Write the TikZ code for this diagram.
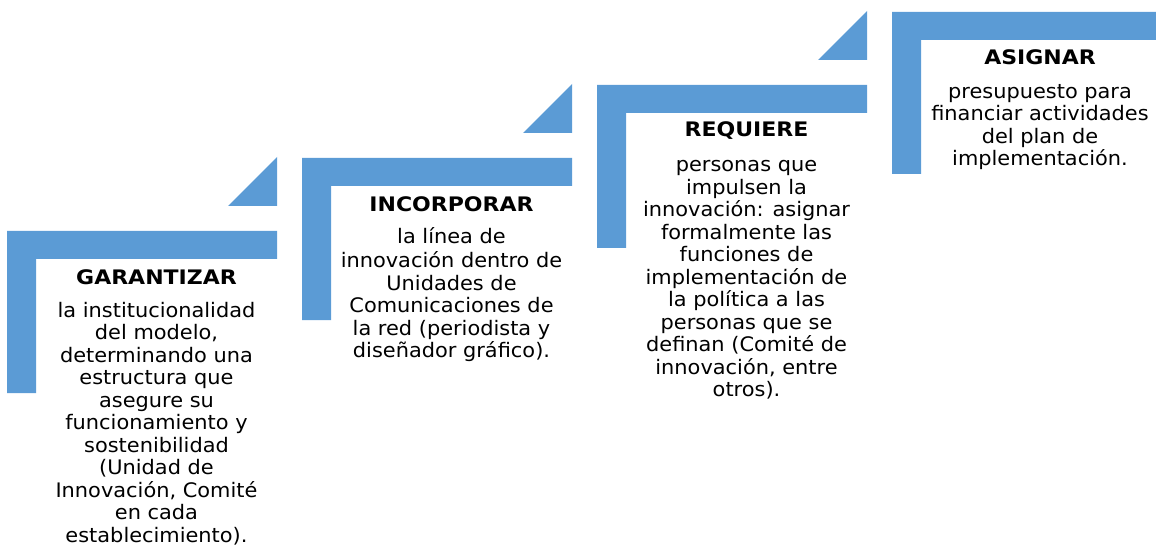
\documentclass[tikz,border=0pt]{standalone}
\usepackage{fontspec}
\setmainfont{DejaVu Sans}
\newfontface\bodyfont[FakeStretch=1.045]{DejaVu Sans}
\newfontface\titlefont[FakeStretch=1.10]{DejaVu Sans Bold}
\definecolor{stepblue}{HTML}{5B9BD5}
\tikzset{
  stepshape/.style={fill=stepblue, draw=none},
  titletext/.style={anchor=base, inner sep=0pt, font=\fontsize{20}{22.5}\selectfont\titlefont},
  bodytext/.style={anchor=north, inner sep=0pt, align=center, font=\fontsize{20}{22.5}\selectfont\bodyfont},
}
\begin{document}
\begin{tikzpicture}[x=1pt,y=-1pt]
\useasboundingbox (0,0) rectangle (1156,553);
% step shapes: x0, top, right, bottom
\foreach \xa/\ta/\ra/\ba in {7/231/277/393, 302/158/572/320, 597/85/867/248, 892/12/1162/174}{
  \fill[stepshape] (\xa,\ta) -- (\ra,\ta) -- (\ra,\ta+28) -- (\xa+29,\ta+28) -- (\xa+29,\ba) -- (\xa,\ba) -- cycle;
}
\foreach \ta/\ra in {231/277, 158/572, 85/867}{
  \fill[stepshape] (\ra-49,\ta-25) -- (\ra,\ta-74) -- (\ra,\ta-25) -- cycle;
}
% GARANTIZAR
\node[titletext] (t1) at (156.5,284.5) {GARANTIZAR};
\node[bodytext] (b1) at (156.5,317-15.75) {\strut la institucionalidad\\del modelo,\\determinando una\\estructura que\\asegure su\\funcionamiento y\\sostenibilidad\\(Unidad de\\Innovación, Comité\\en cada\\establecimiento).};
% INCORPORAR
\node[titletext] (t2) at (451.5,212) {INCORPORAR};
\node[bodytext] (b2) at (451.5,243.5-15.75) {\strut la línea de\\innovación dentro de\\Unidades de\\Comunicaciones de\\la red (periodista y\\diseñador gráfico).};
% REQUIERE
\node[titletext] (t3) at (746.5,137) {REQUIERE};
\node[bodytext] (b3) at (746.5,171.5-15.75) {\strut personas que\\impulsen la\\innovación: asignar\\formalmente las\\funciones de\\implementación de\\la política a las\\personas que se\\definan (Comité de\\innovación, entre\\otros).};
% ASIGNAR
\node[titletext] (t4) at (1040,65) {ASIGNAR};
\node[bodytext] (b4) at (1040,98-15.75) {\strut presupuesto para\\financiar actividades\\del plan de\\implementación.};
\end{tikzpicture}
\end{document}
